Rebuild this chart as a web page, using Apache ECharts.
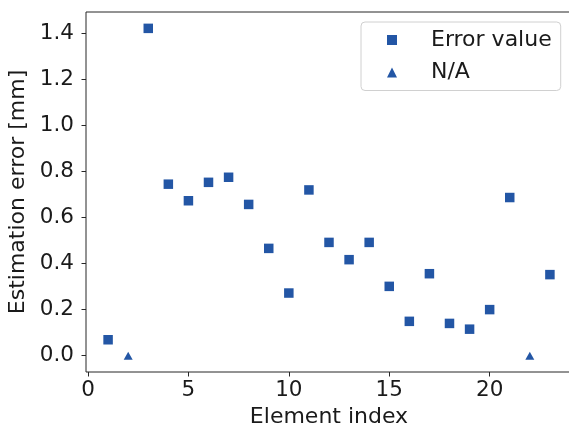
<!DOCTYPE html>
<html>
<head>
<meta charset="utf-8">
<script src="https://cdn.jsdelivr.net/npm/echarts@6/dist/echarts.min.js"></script>
<style>
html,body{margin:0;padding:0;background:#fff;}
#c{width:569px;height:426px;}
</style>
</head>
<body>
<div id="c"></div>
<script>
// Data
const errorIndex = [1, 3, 4, 5, 6, 7, 8, 9, 10, 11, 12, 13, 14, 15, 16, 17, 18, 19, 20, 21, 23];
const errorValue = [0.069, 1.422, 0.745, 0.673, 0.753, 0.775, 0.657, 0.466, 0.272, 0.720, 0.492, 0.417, 0.492, 0.301, 0.149, 0.356, 0.140, 0.115, 0.200, 0.687, 0.352];
const naIndex = [2, 22];
const naValue = [0, 0];
const xTicks = [0, 5, 10, 15, 20];
const yTicks = [0.0, 0.2, 0.4, 0.6, 0.8, 1.0, 1.2, 1.4];
const seriesNames = ['Error value', 'N/A'];
const xTitle = 'Element index';
const yTitle = 'Estimation error [mm]';

const FONT = "'DejaVu Sans', sans-serif";
const FS_TICK = 21.5;
const FS_XT = 22;
const FS_YT = 22;
const FS_LEG = 22;
const COLOR = '#2356a5';
const AXIS = '#262626';
const TXT = '#1a1a1a';

const chart = echarts.init(document.getElementById('c'), null, {renderer: 'canvas'});
chart.setOption({
  animation: false,
  backgroundColor: '#ffffff',
  textStyle: {fontFamily: FONT},
  grid: {left: 86, right: -3, top: 12, bottom: 54, containLabel: false, outerBoundsMode: 'none',
    show: true, borderColor: AXIS, borderWidth: 1, backgroundColor: 'transparent'},
  xAxis: {
    type: 'value', min: -0.1, max: 24.1,
    name: xTitle, nameLocation: 'middle', nameGap: 30,
    nameTextStyle: {fontFamily: FONT, fontSize: FS_XT, color: TXT},
    axisLine: {show: false, onZero: false},
    axisTick: {show: true, length: 4.5, customValues: xTicks, lineStyle: {color: AXIS}},
    axisLabel: {customValues: xTicks, fontFamily: FONT, fontSize: FS_TICK, color: TXT, margin: 7},
    splitLine: {show: false}
  },
  yAxis: {
    type: 'value', min: -0.0711, max: 1.4931,
    name: yTitle, nameLocation: 'middle', nameGap: 38, nameRotate: 90,
    nameTextStyle: {fontFamily: FONT, fontSize: FS_YT, color: TXT},
    axisLine: {show: false, onZero: false},
    axisTick: {show: true, length: 4.5, customValues: yTicks, lineStyle: {color: AXIS}},
    axisLabel: {customValues: yTicks, fontFamily: FONT, fontSize: FS_TICK, color: TXT, margin: 12,
      formatter: v => Number(v).toFixed(1)},
    splitLine: {show: false}
  },
  legend: {
    orient: 'vertical', left: 361, top: 22,
    padding: [7, 9, 7, 26], itemGap: 10.5,
    itemWidth: 10, itemHeight: 10,
    borderColor: '#d0d0d0', borderWidth: 1, borderRadius: 4,
    backgroundColor: 'rgba(255,255,255,0.8)',
    textStyle: {fontFamily: FONT, fontSize: FS_LEG, color: TXT, padding: [0, 0, 0, 29], lineHeight: 20},
    data: [
      {name: seriesNames[0], icon: 'rect', itemStyle: {color: COLOR}},
      {name: seriesNames[1], icon: 'triangle', itemStyle: {color: COLOR}}
    ]
  },
  series: [
    {
      name: seriesNames[0], type: 'scatter', symbol: 'rect', symbolSize: 9.5,
      itemStyle: {color: COLOR, opacity: 1},
      data: errorIndex.map((x, i) => [x, errorValue[i]])
    },
    {
      name: seriesNames[1], type: 'scatter', symbol: 'triangle', symbolSize: [9, 8],
      itemStyle: {color: COLOR, opacity: 1},
      data: naIndex.map((x, i) => [x, naValue[i]])
    }
  ]
});
</script>
</body>
</html>
